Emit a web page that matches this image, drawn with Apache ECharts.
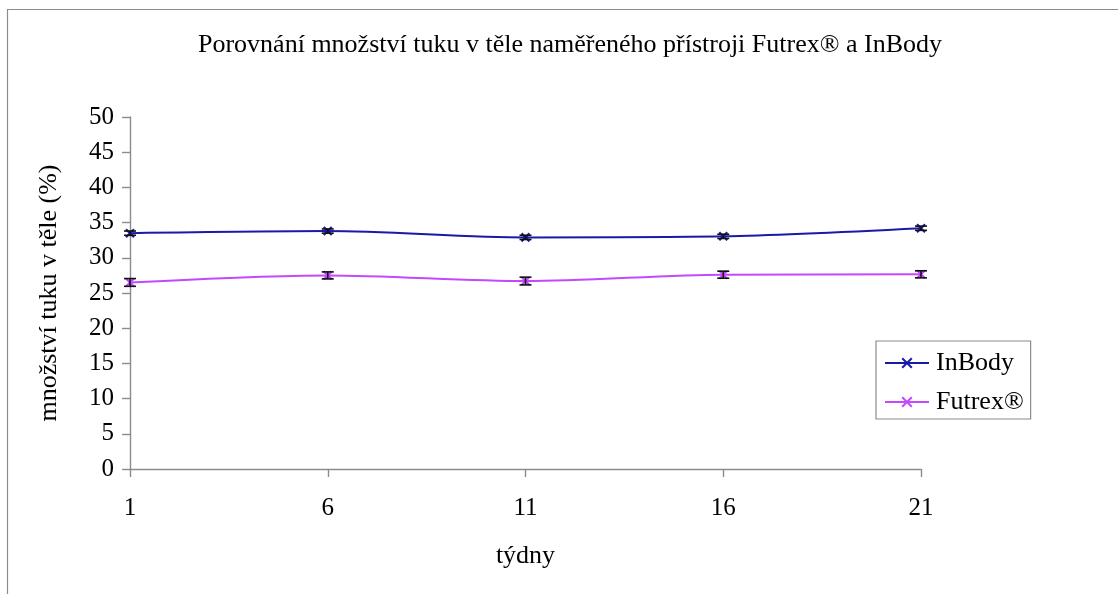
<!DOCTYPE html>
<html>
<head>
<meta charset="utf-8">
<title>Množství tuku v těle</title>
<script src="https://cdn.jsdelivr.net/npm/echarts@6/dist/echarts.min.js"></script>
<style>
  html, body { margin: 0; padding: 0; background: #fff; }
  #chart { width: 1118px; height: 594px; }
</style>
</head>
<body>
<div id="chart"></div>
<script>
// Weeks of measurement
const weeks = ['1', '6', '11', '16', '21'];

// Body fat (%) measured by each device
const inbody = [33.5, 33.8, 32.9, 33.05, 34.2];
const futrex = [26.5, 27.5, 26.7, 27.6, 27.65];

// Error bar half-widths (%)
const inbodyErr = [0.3, 0.3, 0.3, 0.3, 0.3];
const futrexErr = [0.55, 0.5, 0.55, 0.5, 0.5];

const yTicks = { min: 0, max: 50, step: 5 };

const FONT = '"Liberation Serif", "Times New Roman", serif';
const BLUE = '#1a1aa8';
const PURPLE = '#c448ff';
const CROSS = 'path://M0,0L10,10M10,0L0,10';

function errorSeries(name, values, errs) {
  return {
    type: 'custom',
    name: name + ' err',
    z: 4,
    silent: true,
    data: values.map((v, i) => [i, v - errs[i], v + errs[i]]),
    renderItem(params, api) {
      const lo = api.coord([api.value(0), api.value(1)]);
      const hi = api.coord([api.value(0), api.value(2)]);
      const half = 6;
      const style = { stroke: '#111', lineWidth: 1.6 };
      return {
        type: 'group',
        children: [
          { type: 'line', shape: { x1: lo[0], y1: lo[1], x2: hi[0], y2: hi[1] }, style },
          { type: 'line', shape: { x1: lo[0] - half, y1: lo[1], x2: lo[0] + half, y2: lo[1] }, style },
          { type: 'line', shape: { x1: hi[0] - half, y1: hi[1], x2: hi[0] + half, y2: hi[1] }, style }
        ]
      };
    }
  };
}

function lineSeries(name, values, color) {
  return {
    type: 'line',
    name,
    data: values,
    smooth: 0.3,
    z: 3,
    symbol: CROSS,
    symbolSize: 8,
    showAllSymbol: true,
    lineStyle: { color, width: 2 },
    itemStyle: { color, borderColor: color, borderWidth: 2.2 }
  };
}

const chart = echarts.init(document.getElementById('chart'), null, { renderer: 'canvas' });

chart.setOption({
  animation: false,
  backgroundColor: '#fff',
  textStyle: { fontFamily: FONT, color: '#000' },
  graphic: [{
    type: 'rect',
    left: 5, top: 7,
    shape: { width: 1300, height: 700 },
    style: { fill: 'none', stroke: '#8c8c8c', lineWidth: 1.2 },
    silent: true,
    z: -1
  }],
  title: {
    text: 'Porovnání množství tuku v těle naměřeného přístroji Futrex® a InBody',
    left: 565, top: 27,
    textAlign: 'center',
    textStyle: { fontFamily: FONT, fontSize: 26, fontWeight: 'normal', color: '#000' }
  },
  legend: {
    orient: 'vertical',
    left: 876, top: 341,
    padding: [9, 7, 4, 8],
    itemGap: 13,
    itemWidth: 44,
    itemHeight: 12,
    borderColor: '#8c8c8c',
    borderWidth: 1.2,
    backgroundColor: '#fff',
    data: ['InBody', 'Futrex®'],
    textStyle: { fontFamily: FONT, fontSize: 26, color: '#000', padding: [0, 0, 0, 2] }
  },
  grid: { left: 130, right: 197, top: 117, bottom: 125, containLabel: false },
  xAxis: {
    type: 'category',
    data: weeks,
    boundaryGap: false,
    name: 'týdny',
    nameLocation: 'middle',
    nameGap: 74,
    nameTextStyle: { fontFamily: FONT, fontSize: 26, color: '#000' },
    axisLine: { lineStyle: { color: '#8c8c8c', width: 1.4 } },
    axisTick: { show: true, length: 8, alignWithLabel: true, lineStyle: { color: '#8c8c8c', width: 1.4 } },
    axisLabel: { fontFamily: FONT, fontSize: 25, color: '#000', margin: 27 },
    splitLine: { show: false }
  },
  yAxis: {
    type: 'value',
    min: yTicks.min, max: yTicks.max, interval: yTicks.step,
    name: 'množství tuku v těle (%)',
    nameLocation: 'middle',
    nameGap: 68,
    nameRotate: 90,
    nameTextStyle: { fontFamily: FONT, fontSize: 26, color: '#000' },
    axisLine: { show: true, lineStyle: { color: '#8c8c8c', width: 1.4 } },
    axisTick: { show: true, length: 8, lineStyle: { color: '#8c8c8c', width: 1.4 } },
    axisLabel: { fontFamily: FONT, fontSize: 25, color: '#000', margin: 16 },
    splitLine: { show: false }
  },
  series: [
    errorSeries('InBody', inbody, inbodyErr),
    errorSeries('Futrex®', futrex, futrexErr),
    lineSeries('InBody', inbody, BLUE),
    lineSeries('Futrex®', futrex, PURPLE)
  ]
});
</script>
</body>
</html>
